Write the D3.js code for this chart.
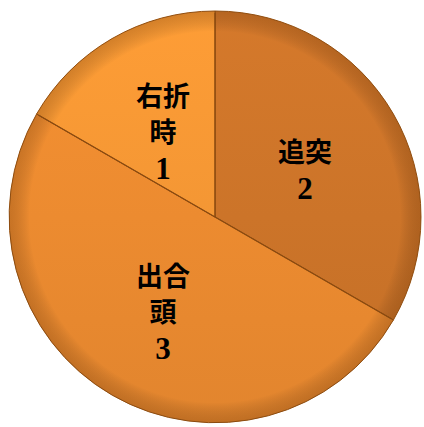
<!DOCTYPE html>
<html>
<head>
<meta charset="utf-8">
<script src="https://cdn.jsdelivr.net/npm/d3@7"></script>
<style>
html,body{margin:0;padding:0;background:#fff;}
svg{display:block;}
</style>
</head>
<body>
<svg id="chart" width="424" height="427"></svg>
<script>
const categories = ["追突", "出合頭", "右折時"];
const labelLines = [["追突"], ["出合", "頭"], ["右折", "時"]];
const values = [2, 3, 1];
const baseColors = ["#CC7429", "#EC8B30", "#F39634"];

const width = 424, height = 427;
const cx = 215, cy = 217, radius = 206;

const svg = d3.select("#chart");
const defs = svg.append("defs");

baseColors.forEach((c, i) => {
  const g = defs.append("linearGradient")
    .attr("id", "grad" + i)
    .attr("gradientUnits", "userSpaceOnUse")
    .attr("x1", 0).attr("y1", -radius).attr("x2", 0).attr("y2", radius);
  g.append("stop").attr("offset", "0%").attr("stop-color", d3.color(c).brighter(0.12));
  g.append("stop").attr("offset", "100%").attr("stop-color", d3.color(c).darker(0.12));
});

const shade = defs.append("radialGradient")
  .attr("id", "rim").attr("gradientUnits", "userSpaceOnUse")
  .attr("cx", 0).attr("cy", 0).attr("r", radius);
shade.append("stop").attr("offset", "90%").attr("stop-color", "#000").attr("stop-opacity", 0);
shade.append("stop").attr("offset", "100%").attr("stop-color", "#5a2a00").attr("stop-opacity", 0.25);

const pie = d3.pie().sort(null).value(d => d)(values);
const arc = d3.arc().innerRadius(0).outerRadius(radius);
const labelArc = d3.arc().innerRadius(104).outerRadius(104);

const g = svg.append("g").attr("transform", `translate(${cx},${cy})`);

g.selectAll("path.slice")
  .data(pie)
  .join("path")
  .attr("class", "slice")
  .attr("d", arc)
  .attr("fill", (d, i) => `url(#grad${i})`)
  .attr("stroke", "#9a5514")
  .attr("stroke-width", 1);

g.append("circle").attr("r", radius).attr("fill", "url(#rim)");

g.selectAll("line.hl")
  .data(pie)
  .join("line")
  .attr("class", "hl")
  .attr("x1", 0).attr("y1", 0)
  .attr("x2", d => Math.sin(d.startAngle) * (radius - 2))
  .attr("y2", d => -Math.cos(d.startAngle) * (radius - 2))
  .attr("stroke", "#8a4a10")
  .attr("stroke-width", 1.2);

const lineH = 36;
pie.forEach((d, i) => {
  const [x, y] = labelArc.centroid(d);
  const lines = labelLines[i].concat([String(values[i])]);
  const top = y + 5 - (lines.length - 1) * lineH / 2;
  lines.forEach((ln, k) => {
    const isNum = k === lines.length - 1;
    g.append("text")
      .attr("class", "lbl")
      .attr("text-anchor", "middle")
      .attr("fill", "#000")
      .attr("x", x)
      .attr("y", top + k * lineH + (isNum ? 11 : 10))
      .style("font-family", isNum ? "'Liberation Serif', 'DejaVu Serif', serif" : "'Noto Sans CJK JP', sans-serif")
      .style("font-weight", "bold")
      .style("font-size", isNum ? "31px" : "27px")
      .text(ln);
  });
});
</script>
</body>
</html>
